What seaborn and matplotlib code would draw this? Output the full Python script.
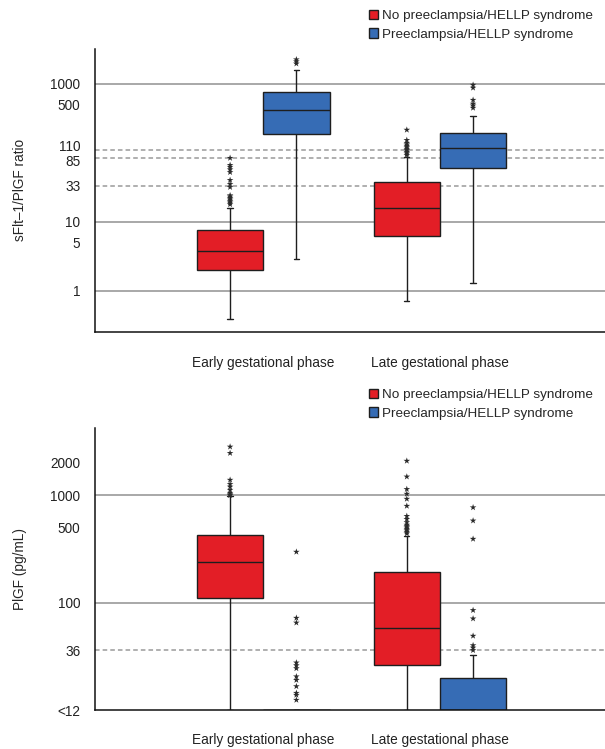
import numpy as np
import pandas as pd
import seaborn as sns
import matplotlib.pyplot as plt
from matplotlib.transforms import ScaledTranslation

phases = ['Early gestational phase', 'Late gestational phase']
groups = ['No preeclampsia/HELLP syndrome', 'Preeclampsia/HELLP syndrome']
box_colors = ['#e31e26', '#366cb5']

# box summaries: lower whisker, q1, median, q3, upper whisker
ratio_early_no = [0.39, 2.02, 3.7, 7.7, 15.6]
ratio_early_pe = [2.9, 184, 415, 755, 1560]
ratio_late_no = [0.71, 6.3, 16.0, 38.2, 87]
ratio_late_pe = [1.3, 59, 115, 190, 345]

ratio_out_early_no = [17.8, 18.8, 19.7, 20.8, 21.9, 23, 24, 31.6, 35, 40, 52, 57, 62, 66, 83.6]
ratio_out_early_pe = [1950, 2100, 2240]
ratio_out_late_no = [92, 97, 102, 108, 113, 119, 125, 131, 138, 152, 214]
ratio_out_late_pe = [445, 480, 510, 580, 870, 960]

# PlGF: 10 stands for the "<12" floor
plgf_early_no = [10, 110, 240, 424, 975]
plgf_early_pe = [10, 10, 10, 10, 10]
plgf_late_no = [10, 26.3, 58.5, 193, 418]
plgf_late_pe = [10, 10, 10, 19.9, 32.5]

plgf_out_early_no = [1000, 1020, 1050, 1120, 1200, 1270, 1390, 2470, 2830]
plgf_out_early_pe = [12.4, 13.8, 14.4, 16.6, 19, 20.5, 24.4, 26, 27.6, 65, 72, 297]
plgf_out_late_no = [440, 455, 470, 485, 500, 515, 530, 560, 600, 640, 795, 925, 1030, 1140, 1490, 2090]
plgf_out_late_pe = [36, 38, 40, 49, 71, 85, 392, 580, 770]

ratio_ticks = [1, 5, 10, 33, 85, 110, 500, 1000]
ratio_solid = [1, 10, 1000]
ratio_dashed = [33, 85, 110]
plgf_ticks = [10, 36, 100, 500, 1000, 2000]
plgf_tick_labels = ['<12', '36', '100', '500', '1000', '2000']
plgf_solid = [100, 1000]
plgf_dashed = [36]


def to_frame(lists):
    rows = []
    for (phase, grp), vals in lists.items():
        for v in vals:
            rows.append({'phase': phase, 'group': grp, 'value': v})
    return pd.DataFrame(rows)


ratio_boxes = to_frame({(phases[0], groups[0]): ratio_early_no, (phases[0], groups[1]): ratio_early_pe,
                        (phases[1], groups[0]): ratio_late_no, (phases[1], groups[1]): ratio_late_pe})
ratio_out = to_frame({(phases[0], groups[0]): ratio_out_early_no, (phases[0], groups[1]): ratio_out_early_pe,
                      (phases[1], groups[0]): ratio_out_late_no, (phases[1], groups[1]): ratio_out_late_pe})
plgf_boxes = to_frame({(phases[0], groups[0]): plgf_early_no, (phases[0], groups[1]): plgf_early_pe,
                       (phases[1], groups[0]): plgf_late_no, (phases[1], groups[1]): plgf_late_pe})
plgf_out = to_frame({(phases[0], groups[0]): plgf_out_early_no, (phases[0], groups[1]): plgf_out_early_pe,
                     (phases[1], groups[0]): plgf_out_late_no, (phases[1], groups[1]): plgf_out_late_pe})

sns.set_style('white')
plt.rcParams['font.family'] = ['Liberation Sans', 'DejaVu Sans']
plt.rcParams['font.size'] = 9.8

fig = plt.figure(figsize=(6.05, 7.49), dpi=100)
W, H = 605, 749
ax1 = fig.add_axes([95 / W, 1 - 331.5 / H, 510 / W, (331.5 - 49) / H])
ax2 = fig.add_axes([95 / W, 1 - 710 / H, 510 / W, (710 - 427.7) / H])


def draw(ax, boxes, outs, ticks, labels, solid, dashed, ylim, ylabel, legend_y, xpad):
    sns.boxplot(data=boxes, x='phase', y='value', hue='group', order=phases, hue_order=groups,
                palette=box_colors, saturation=1, width=0.75, gap=0, whis=(0, 100),
                linecolor='#1e1e1e', linewidth=1.0, log_scale=True, capwidths=0.03,
                legend=True, ax=ax)
    sns.stripplot(data=outs, x='phase', y='value', hue='group', order=phases, hue_order=groups,
                  palette=['#2a2a2a', '#2a2a2a'], dodge=True, jitter=False, marker='*',
                  size=5, linewidth=0, legend=False, ax=ax)
    # pull the outliers onto the box centres (boxes use 0.75 width)
    for coll in ax.collections:
        off = coll.get_offsets()
        if len(off):
            base = np.round(off[:, 0])
            off[:, 0] = base + (off[:, 0] - base) * 0.9375
            coll.set_offsets(off)
    for v in solid:
        ax.axhline(v, color='#9a9a9a', lw=1.2, zorder=0)
    for v in dashed:
        ax.axhline(v, color='#9a9a9a', lw=1.1, ls=(0, (3, 2)), zorder=0)

    ax.set_ylim(*ylim)
    ax.set_xlim(-0.952, 1.934)
    ax.set_yticks(ticks)
    ax.set_yticklabels(labels)
    ax.minorticks_off()
    ax.set_xlabel('')
    ax.set_ylabel(ylabel, fontsize=9.8)
    ax.yaxis.set_label_coords(-0.134, 0.5)
    for s in ['top', 'right']:
        ax.spines[s].set_visible(False)
    for s in ['left', 'bottom']:
        ax.spines[s].set_color('#111111')
        ax.spines[s].set_linewidth(1.1)
    ax.tick_params(axis='y', direction='inout', length=7, width=1, color='#111111',
                   pad=7, labelsize=9.8, colors='#222222')
    ax.tick_params(axis='x', direction='out', length=5, width=1, color='#111111',
                   pad=xpad, labelsize=9.8, colors='#222222')

    handles, hl = ax.get_legend_handles_labels()
    ax.get_legend().remove()
    fig.legend(handles, hl, loc='upper left', bbox_to_anchor=(369 / W, 1 - legend_y / H),
               frameon=False, fontsize=9.7, handlelength=0.7, handleheight=0.7,
               handletextpad=0.3, labelspacing=0.45, borderaxespad=0, borderpad=0)


draw(ax1, ratio_boxes, ratio_out, ratio_ticks, [str(t) for t in ratio_ticks],
     ratio_solid, ratio_dashed, (0.256, 3180), 'sFlt–1/PlGF ratio', 10, 13)
draw(ax2, plgf_boxes, plgf_out, plgf_ticks, plgf_tick_labels,
     plgf_solid, plgf_dashed, (10, 4260), 'PlGF (pg/mL)', 389, 11.5)

# spread the close 85 / 110 labels apart as in the original
for lab in ax1.get_yticklabels():
    if lab.get_text() == '110':
        lab.set_transform(lab.get_transform() + ScaledTranslation(0, 3 / 72, fig.dpi_scale_trans))
    elif lab.get_text() == '85':
        lab.set_transform(lab.get_transform() + ScaledTranslation(0, -2 / 72, fig.dpi_scale_trans))

fig.savefig('out.png', dpi=100)
